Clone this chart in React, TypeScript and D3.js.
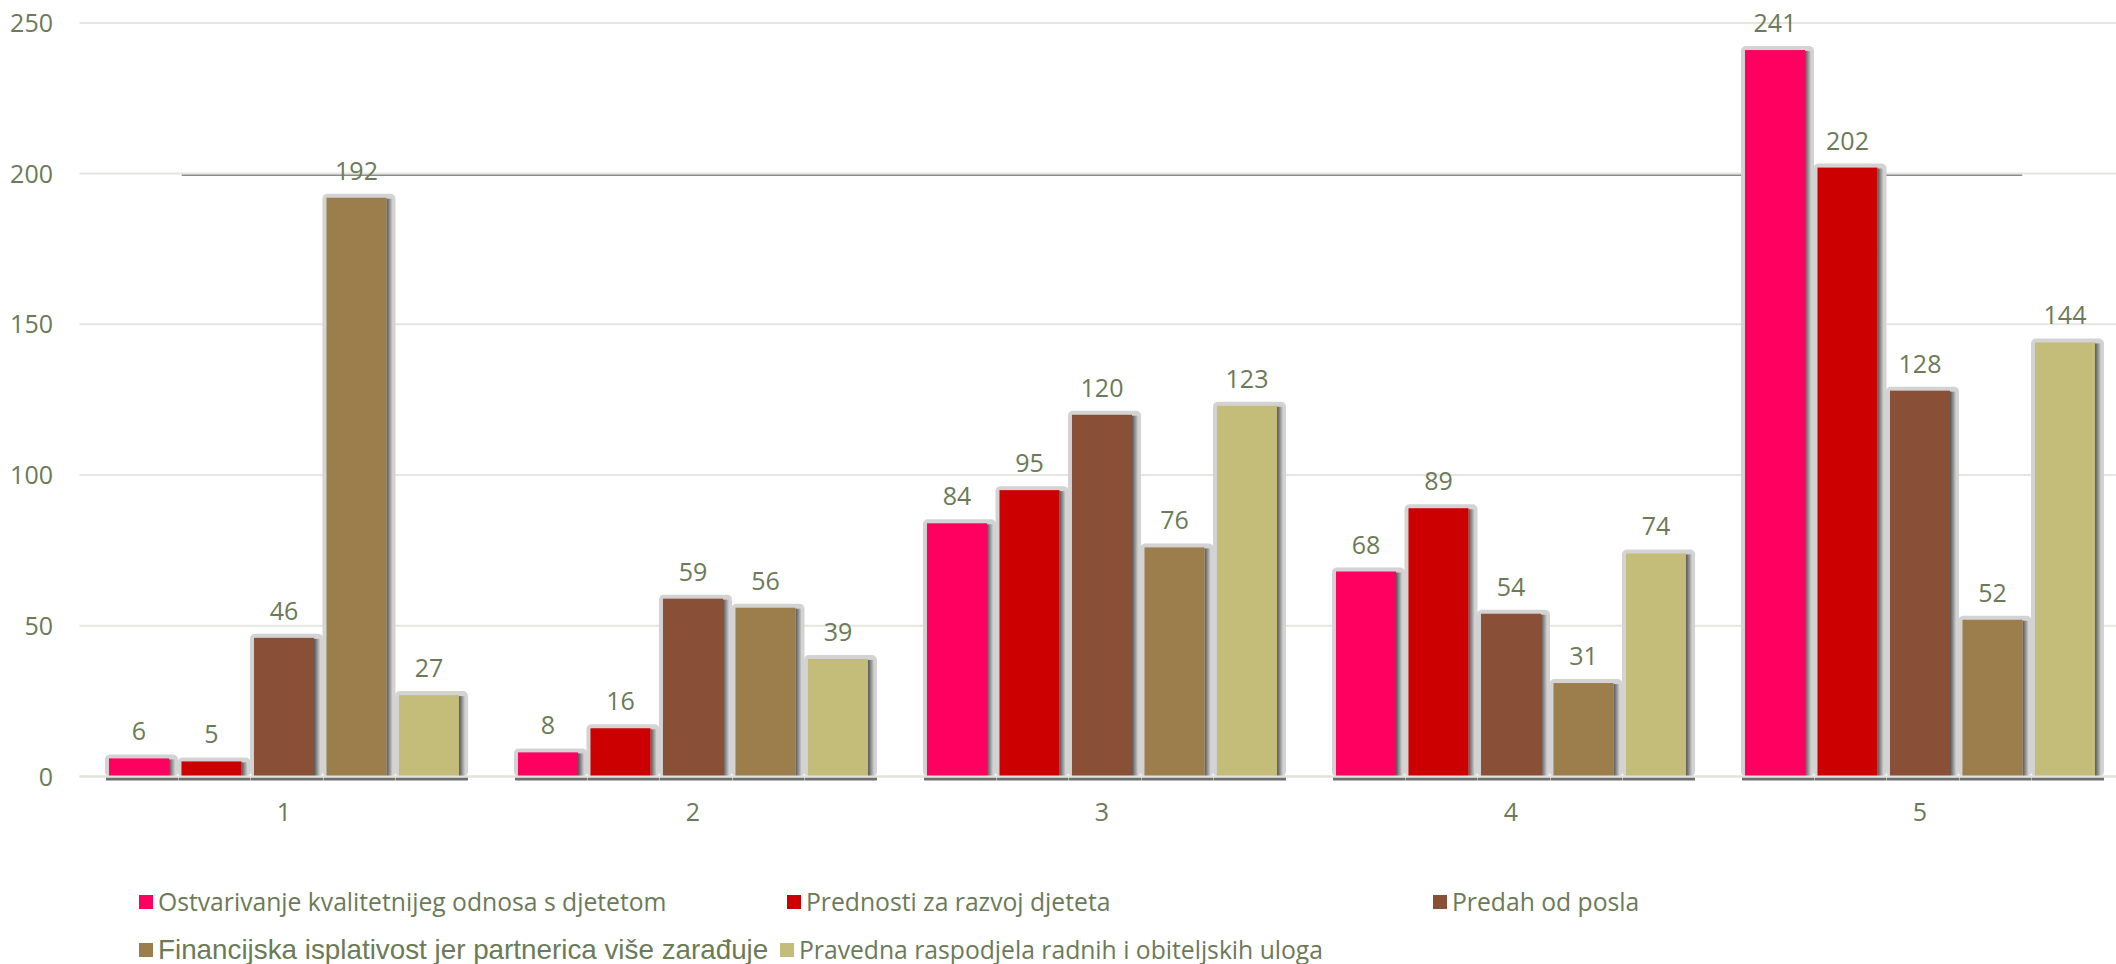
import React from "react";
import * as d3 from "d3";

const categories = ["1", "2", "3", "4", "5"];
const seriesNames = [
  "Ostvarivanje kvalitetnijeg odnosa s djetetom",
  "Prednosti za razvoj djeteta",
  "Predah od posla",
  "Financijska isplativost jer partnerica više zarađuje",
  "Pravedna raspodjela radnih i obiteljskih uloga",
];
const seriesColors = ["#FF0060", "#CC0000", "#8A4F37", "#9C7E4C", "#C3BD79"];
const ostvarivanje = [6, 8, 84, 68, 241];
const prednosti = [5, 16, 95, 89, 202];
const predah = [46, 59, 120, 54, 128];
const financijska = [192, 56, 76, 31, 52];
const pravedna = [27, 39, 123, 74, 144];
const seriesValues = [ostvarivanje, prednosti, predah, financijska, pravedna];
const yTicks = [0, 50, 100, 150, 200, 250];
const refLineValue = 199.5;

const W = 2116;
const H = 964;
const TEXT = "#6B7A57";
const FONT = "'Open Sans', sans-serif";

export default function App() {
  const plotLeft = 79.5;
  const plotRight = 2124.5;
  const x0 = d3.scaleBand<string>().domain(categories).range([plotLeft, plotRight]).padding(0);
  const x1 = d3
    .scaleBand<string>()
    .domain(seriesNames)
    .range([0, x0.bandwidth()])
    .paddingInner(0.172)
    .paddingOuter(0.4066);
  const y = d3.scaleLinear().domain([0, 250]).range([776.5, 22.9]);
  const y0 = y(0);
  const bw = x1.bandwidth();

  const catPos = (c: number) => plotLeft + c * x0.step();

  // legend layout
  const legendItems = [
    { i: 0, x: 139, y: 902, font: FONT, size: 24.7 },
    { i: 1, x: 787, y: 902, font: FONT, size: 24.7 },
    { i: 2, x: 1433, y: 902, font: FONT, size: 24.7 },
    { i: 3, x: 139, y: 950, font: "'Liberation Sans', Arial, sans-serif", size: 27.8 },
    { i: 4, x: 780, y: 950, font: FONT, size: 24.7 },
  ];

  return (
    <div style={{ position: "absolute", left: 0, top: 0, width: W, height: H, background: "#fff" }}>
      <svg width={W} height={H} viewBox={`0 0 ${W} ${H}`} style={{ display: "block" }}>
        <defs>
          <linearGradient id="rshadow" x1="0" x2="1" y1="0" y2="0">
            <stop offset="0" stopColor="#555" />
            <stop offset="0.45" stopColor="#8a8a8a" />
            <stop offset="1" stopColor="#d0d0d0" />
          </linearGradient>
        </defs>
        {/* gridlines */}
        {yTicks.map((t) => (
          <line key={t} x1={plotLeft} x2={plotRight} y1={y(t)} y2={y(t)} stroke="#E6E6DF" strokeWidth={2} />
        ))}
        {/* y tick labels */}
        {yTicks.map((t) => (
          <text
            key={"yl" + t}
            x={53}
            y={y(t) + 9}
            textAnchor="end"
            fontFamily={FONT}
            fontSize={25}
            fill={TEXT}
          >
            {t}
          </text>
        ))}
        {/* reference line */}
        <line
          x1={catPos(0.25)}
          x2={catPos(categories.length - 0.25)}
          y1={y(refLineValue)}
          y2={y(refLineValue)}
          stroke="#8a8a8a"
          strokeWidth={1.5}
        />
        {/* bar shadows */}
        {categories.map((c, ci) =>
          seriesNames.map((s, si) => {
            const v = seriesValues[si][ci];
            const bx = (x0(c) as number) + (x1(s) as number);
            const by = y(v);
            const h = y0 - by;
            return (
              <g key={`sh-${ci}-${si}`}>
                <rect x={bx - 4} y={by - 4} width={bw + 13} height={h + 4} rx={5} fill="#D3D3D3" />
                <rect x={bx + bw} y={by + 1} width={6} height={h - 1} fill="url(#rshadow)" />
                <rect x={bx - 3} y={y0 + 1} width={bw + 12} height={3} fill="#6E6E6E" />
              </g>
            );
          })
        )}
        {/* bars */}
        {categories.map((c, ci) =>
          seriesNames.map((s, si) => {
            const v = seriesValues[si][ci];
            const bx = (x0(c) as number) + (x1(s) as number);
            const by = y(v);
            return (
              <rect
                key={`b-${ci}-${si}`}
                x={bx}
                y={by}
                width={bw}
                height={y0 - by}
                fill={seriesColors[si]}
              />
            );
          })
        )}
        {/* axis line */}
        <line x1={plotLeft} x2={plotRight} y1={y0} y2={y0} stroke="#E2E2DA" strokeWidth={2} />
        {/* value labels */}
        {categories.map((c, ci) =>
          seriesNames.map((s, si) => {
            const v = seriesValues[si][ci];
            const bx = (x0(c) as number) + (x1(s) as number);
            return (
              <text
                key={`l-${ci}-${si}`}
                x={bx + bw / 2}
                y={y(v) - 18}
                textAnchor="middle"
                fontFamily={FONT}
                fontSize={25}
                fill={TEXT}
              >
                {v}
              </text>
            );
          })
        )}
        {/* category labels */}
        {categories.map((c) => (
          <text
            key={"c" + c}
            x={(x0(c) as number) + x0.bandwidth() / 2}
            y={821}
            textAnchor="middle"
            fontFamily={FONT}
            fontSize={25}
            fill={TEXT}
          >
            {c}
          </text>
        ))}
        {/* legend */}
        {legendItems.map((it) => (
          <g key={"lg" + it.i}>
            <rect x={it.x} y={it.y - 7} width={14} height={14} fill={seriesColors[it.i]} />
            <text
              x={it.x + 19}
              y={it.y + 8.5}
              fontFamily={it.font}
              fontSize={it.size}
              fill={TEXT}
            >
              {seriesNames[it.i]}
            </text>
          </g>
        ))}
      </svg>
    </div>
  );
}
